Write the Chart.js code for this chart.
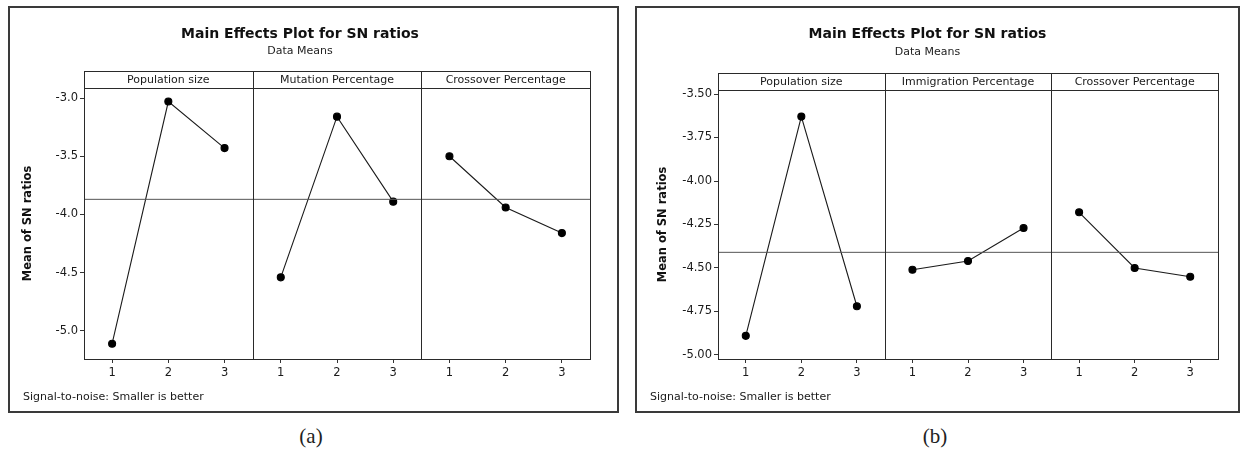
<!DOCTYPE html>
<html>
<head>
<meta charset="utf-8">
<script src="https://cdn.jsdelivr.net/npm/chart.js@4.4.0/dist/chart.umd.min.js"></script>
<style>
body { margin:0; background:#fff; width:1242px; height:453px; overflow:hidden; position:relative; font-family:"DejaVu Sans", sans-serif; }
.frame { position:absolute; border:2px solid #3a3a3a; }
#frameA { left:8px; top:6px; width:607px; height:403px; }
#frameB { left:635px; top:6px; width:601px; height:403px; }
.cap { position:absolute; top:424px; font-family:"Liberation Serif", serif; font-size:21px; color:#222; width:60px; text-align:center; }
</style>
</head>
<body>
<div class="frame" id="frameA"><canvas id="chartA" width="607" height="403"></canvas></div>
<div class="frame" id="frameB"><canvas id="chartB" width="601" height="403"></canvas></div>
<div class="cap" style="left:281px">(a)</div>
<div class="cap" style="left:905px">(b)</div>
<script>
// levels on the x axis of every panel
var levels = ['1', '2', '3'];

// (a)
var factorsA = ['Population size', 'Mutation Percentage', 'Crossover Percentage'];
var popA = [-5.11, -3.03, -3.43];
var mutA = [-4.54, -3.16, -3.89];
var crossA = [-3.50, -3.94, -4.16];
var meanA = -3.87;
var yTicksA = [-5.0, -4.5, -4.0, -3.5, -3.0];

// (b)
var factorsB = ['Population size', 'Immigration Percentage', 'Crossover Percentage'];
var popB = [-4.89, -3.63, -4.72];
var immB = [-4.51, -4.46, -4.27];
var crossB = [-4.18, -4.50, -4.55];
var meanB = -4.41;
var yTicksB = [-5.00, -4.75, -4.50, -4.25, -4.00, -3.75, -3.50];

var FONT = '"DejaVu Sans", sans-serif';

// strip headers, panel dividers and the footnote
var panelBox = {
    id: 'panelBox',
    afterDraw: function(chart) {
        var ctx = chart.ctx, a = chart.chartArea, xs = chart.scales.x;
        var o = chart.options.plugins.panelBox;
        var top = a.top - o.stripHeight;
        ctx.save();
        ctx.strokeStyle = '#2a2a2a';
        ctx.lineWidth = 1;
        ctx.strokeRect(Math.round(a.left) + 0.5, Math.round(top) + 0.5, Math.round(a.right - a.left), Math.round(a.bottom - top));
        ctx.beginPath();
        ctx.moveTo(a.left, Math.round(a.top) + 0.5);
        ctx.lineTo(a.right, Math.round(a.top) + 0.5);
        for (var d = 1; d < o.labels.length; d++) {
            var px = Math.round(xs.getPixelForValue(d * levels.length + 0.5)) + 0.5;
            ctx.moveTo(px, top);
            ctx.lineTo(px, a.bottom);
        }
        ctx.stroke();
        ctx.fillStyle = '#1a1a1a';
        ctx.font = '11px ' + FONT;
        ctx.textAlign = 'center';
        ctx.textBaseline = 'middle';
        o.labels.forEach(function(lab, i) {
            var cx = xs.getPixelForValue(i * levels.length + (levels.length + 1) / 2);
            ctx.fillText(lab, cx, top + o.stripHeight / 2 + 1);
        });
        ctx.textAlign = 'left';
        ctx.font = '11px ' + FONT;
        ctx.fillText(o.note, o.noteX, o.noteY);
        ctx.restore();
    }
};

function makeChart(id, factors, series, mean, yTicks, decimals, cfg) {
    var n = levels.length;
    var datasets = [{
        data: [{x: 0.5, y: mean}, {x: factors.length * n + 0.5, y: mean}],
        borderColor: '#555',
        borderWidth: 1,
        pointRadius: 0
    }];
    series.forEach(function(vals, p) {
        datasets.push({
            data: vals.map(function(v, i) { return {x: p * n + i + 1, y: v}; }),
            borderColor: '#1a1a1a',
            borderWidth: 1.1,
            pointRadius: 3.5,
            pointBackgroundColor: '#000',
            pointBorderColor: '#000'
        });
    });
    var xTickVals = [];
    factors.forEach(function(f, p) {
        levels.forEach(function(l, i) { xTickVals.push(p * n + i + 1); });
    });

    return new Chart(document.getElementById(id), {
        type: 'line',
        data: { datasets: datasets },
        plugins: [panelBox],
        options: {
            responsive: false,
            animation: false,
            layout: { padding: { left: 0, right: cfg.padRight, top: 0, bottom: 0 } },
            plugins: {
                legend: { display: false },
                tooltip: { enabled: false },
                title: {
                    display: true,
                    text: 'Main Effects Plot for SN ratios',
                    color: '#111',
                    font: { family: FONT, size: 14, weight: 'bold' },
                    padding: { top: 18, bottom: 0 }
                },
                subtitle: {
                    display: true,
                    text: 'Data Means',
                    color: '#222',
                    font: { family: FONT, size: 11 },
                    padding: { top: cfg.subTop, bottom: cfg.subBottom }
                },
                panelBox: {
                    labels: factors,
                    stripHeight: 17,
                    note: 'Signal-to-noise: Smaller is better',
                    noteX: 13,
                    noteY: 389
                }
            },
            scales: {
                x: {
                    type: 'linear',
                    min: 0.5,
                    max: factors.length * n + 0.5,
                    afterBuildTicks: function(s) {
                        s.ticks = xTickVals.map(function(v) { return {value: v}; });
                    },
                    afterFit: function(s) { s.height = 52; },
                    border: { display: false },
                    grid: { drawOnChartArea: false, drawTicks: true, tickLength: 4, color: '#333' },
                    ticks: {
                        color: '#1a1a1a',
                        padding: 3,
                        maxRotation: 0,
                        font: { family: FONT, size: 11.5 },
                        callback: function(v) { return levels[(v - 1) % n]; }
                    }
                },
                y: {
                    min: cfg.yMin,
                    max: cfg.yMax,
                    afterBuildTicks: function(s) {
                        s.ticks = yTicks.map(function(v) { return {value: v}; });
                    },
                    afterFit: function(s) { s.width = cfg.yWidth; },
                    border: { display: false },
                    grid: { drawOnChartArea: false, drawTicks: true, tickLength: 4, color: '#333' },
                    ticks: {
                        color: '#1a1a1a',
                        padding: 2,
                        font: { family: FONT, size: 11.5 },
                        callback: function(v) { return v.toFixed(decimals); }
                    },
                    title: {
                        display: true,
                        text: 'Mean of SN ratios',
                        color: '#111',
                        font: { family: FONT, size: 11.5, weight: 'bold' },
                        padding: { top: cfg.titlePad, bottom: 0 }
                    }
                }
            }
        }
    });
}

makeChart('chartA', factorsA, [popA, mutA, crossA], meanA, yTicksA, 1, {
    yMin: -5.241, yMax: -2.914, yWidth: 74, padRight: 27, subTop: 2, subBottom: 30, titlePad: 11
});
makeChart('chartB', factorsB, [popB, immB, crossB], meanB, yTicksB, 2, {
    yMin: -5.023, yMax: -3.477, yWidth: 81, padRight: 20, subTop: 3, subBottom: 31, titlePad: 19
});
</script>
</body>
</html>
